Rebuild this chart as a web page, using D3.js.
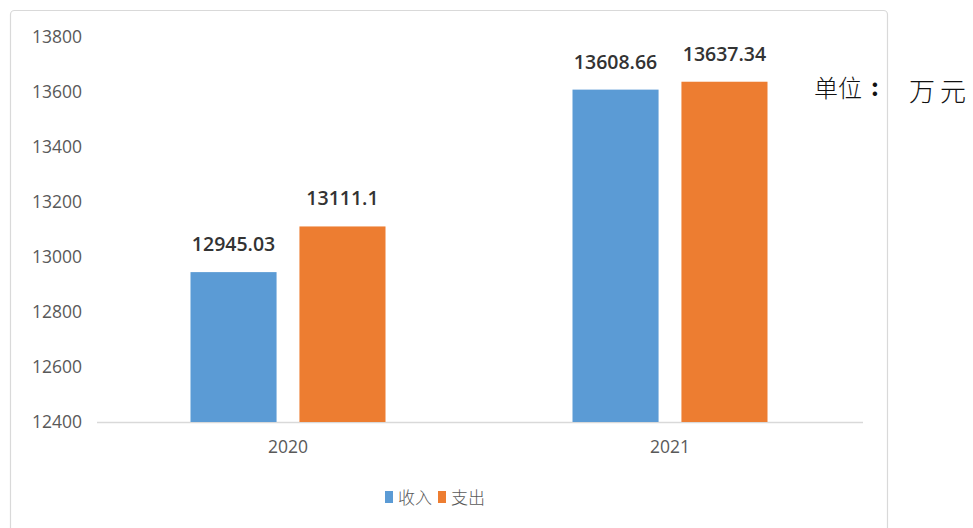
<!DOCTYPE html>
<html><head><meta charset="utf-8">
<script src="https://cdn.jsdelivr.net/npm/d3@7"></script>
<style>body{margin:0;background:#fff;} svg{display:block;}</style>
</head><body>
<script>
const categories = ["2020", "2021"];
const seriesNames = ["收入", "支出"];
const income = [12945.03, 13608.66];
const expense = [13111.1, 13637.34];
const incomeLabels = ["12945.03", "13608.66"];
const expenseLabels = ["13111.1", "13637.34"];
const yTicks = [12400, 12600, 12800, 13000, 13200, 13400, 13600, 13800];
const colors = ["#5B9BD5", "#ED7D31"];

const W = 973, H = 528;
const svg = d3.select("body").append("svg").attr("width", W).attr("height", H);
const numFont = "'Open Sans', 'Liberation Sans', sans-serif";

// chart frame
svg.append("rect").attr("x", 10.5).attr("y", 10.5).attr("width", 877).attr("height", 540)
  .attr("rx", 4).attr("fill", "#fff").attr("stroke", "#d9d9d9").attr("stroke-width", 1.2);

const x0 = d3.scaleBand().domain(categories).range([97, 861]).paddingInner(0).paddingOuter(0);
const y = d3.scaleLinear().domain([12400, 13800]).range([422, 37]);
const x1 = d3.scaleBand().domain(seriesNames).range([0, 195]).paddingInner(0.21);

// y axis labels
const yAxis = d3.axisLeft(y).tickValues(yTicks).tickSize(0).tickPadding(0).tickFormat(d3.format("d"));
const gy = svg.append("g").attr("transform", "translate(82,0)").call(yAxis);
gy.select(".domain").remove();
gy.selectAll("text").attr("fill", "#595959").style("font-family", numFont).style("font-size", "17.5px");

// baseline + category labels
const xAxis = d3.axisBottom(x0).tickSize(0).tickPadding(19);
const gx = svg.append("g").attr("transform", "translate(0,422)").call(xAxis);
gx.select(".domain").attr("stroke", "#d9d9d9").attr("stroke-width", 1.3).attr("d", "M97,0.5H863");
gx.selectAll("text").attr("fill", "#595959").style("font-family", numFont).style("font-size", "17.5px");

const data = categories.map((c, i) => ({
  cat: c,
  vals: [
    {name: seriesNames[0], v: income[i], lab: incomeLabels[i], color: colors[0]},
    {name: seriesNames[1], v: expense[i], lab: expenseLabels[i], color: colors[1]}
  ]
}));

const groups = svg.append("g").selectAll("g").data(data).join("g")
  .attr("transform", d => `translate(${x0(d.cat) + (x0.bandwidth() - 195) / 2},0)`);

groups.selectAll("rect").data(d => d.vals).join("rect")
  .attr("x", d => x1(d.name)).attr("width", x1.bandwidth())
  .attr("y", d => y(d.v)).attr("height", d => y(12400) - y(d.v))
  .attr("fill", d => d.color);

groups.selectAll("text.val").data(d => d.vals).join("text").attr("class", "val")
  .attr("x", d => x1(d.name) + x1.bandwidth() / 2)
  .attr("y", d => y(d.v) - 21)
  .attr("text-anchor", "middle")
  .attr("fill", "#333")
  .style("font-family", numFont)
  .style("font-size", "19.5px").style("font-weight", "600")
  .text(d => d.lab);

// legend
const legend = svg.append("g").attr("transform", "translate(385,497)");
const li = legend.selectAll("g").data(seriesNames).join("g")
  .attr("transform", (d, i) => `translate(${i * 53},0)`);
li.append("rect").attr("x", 0).attr("y", -6).attr("width", 8).attr("height", 12)
  .attr("fill", (d, i) => colors[i]);
li.append("text").attr("x", 13).attr("y", 7).attr("fill", "#595959")
  .style("font-family", "'Noto Sans CJK SC', sans-serif").style("font-size", "17px").style("font-weight", "300")
  .text(d => d);

// unit
svg.append("text").attr("x", 814).attr("y", 97).attr("fill", "#111")
  .style("font-family", "'Noto Sans CJK SC', sans-serif").style("font-size", "24px").style("font-weight", "300")
  .text("单位");
svg.append("text").attr("x", 871).attr("y", 96).attr("fill", "#111")
  .style("font-family", "'Noto Sans CJK SC', sans-serif").style("font-size", "24px").style("font-weight", "700")
  .text(":");
svg.append("text").attr("x", 909).attr("y", 101).attr("fill", "#111")
  .style("font-family", "'Noto Sans CJK SC', sans-serif").style("font-size", "26px").style("font-weight", "300")
  .style("letter-spacing", "5px")
  .text("万元");
</script>
</body></html>
